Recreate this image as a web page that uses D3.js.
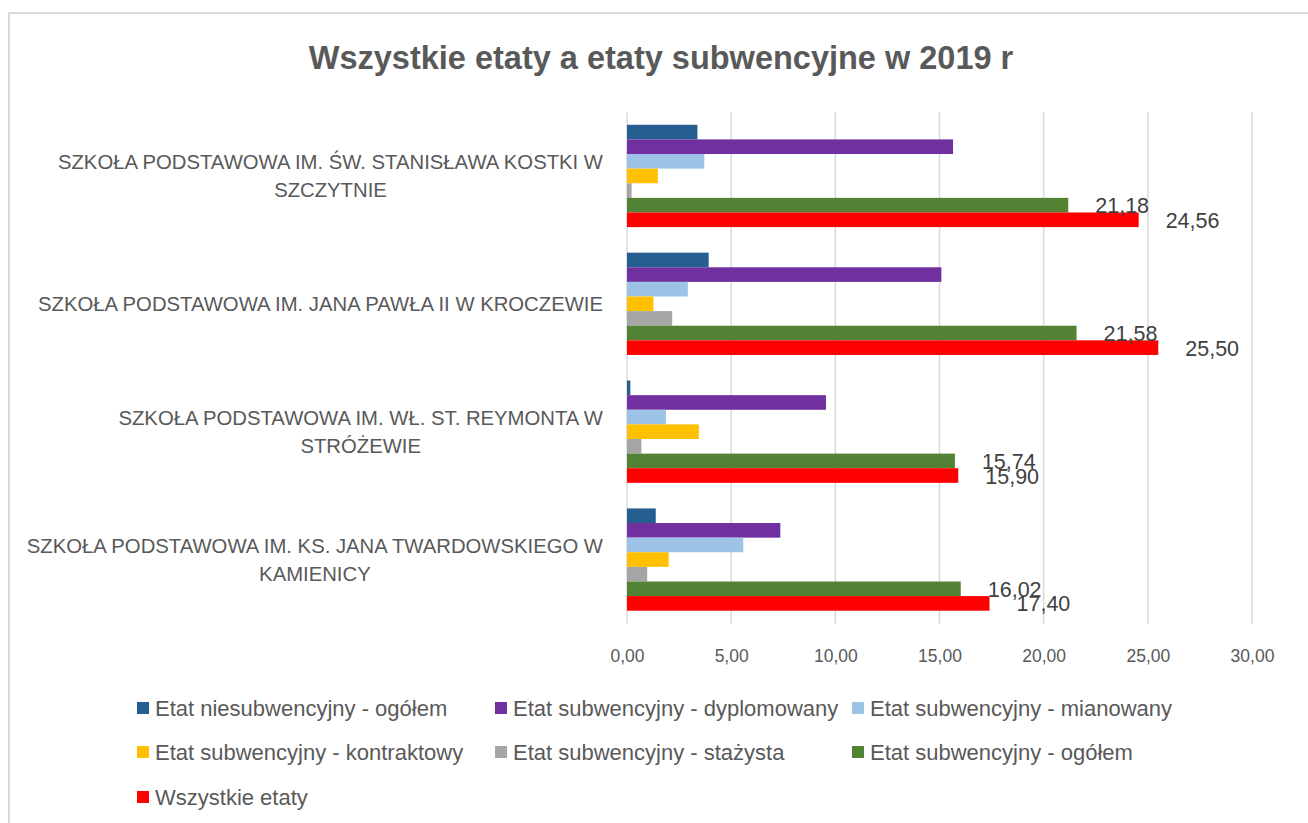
<!DOCTYPE html>
<html>
<head>
<meta charset="utf-8">
<script src="https://cdn.jsdelivr.net/npm/d3@7"></script>
<style>
  body { margin: 0; background: #fff; }
  svg { display: block; font-family: "Liberation Sans", Arial, sans-serif; }
</style>
</head>
<body>
<svg id="chart" width="1308" height="823"></svg>
<script>
// data
const categories = [
  ["SZKOŁA PODSTAWOWA IM. ŚW. STANISŁAWA KOSTKI W", "SZCZYTNIE"],
  ["SZKOŁA PODSTAWOWA IM. JANA PAWŁA II W KROCZEWIE"],
  ["SZKOŁA PODSTAWOWA IM. WŁ. ST. REYMONTA W", "STRÓŻEWIE"],
  ["SZKOŁA PODSTAWOWA IM. KS. JANA TWARDOWSKIEGO W", "KAMIENICY"]
];
const seriesNames = [
  "Etat niesubwencyjny - ogółem",
  "Etat subwencyjny - dyplomowany",
  "Etat subwencyjny - mianowany",
  "Etat subwencyjny - kontraktowy",
  "Etat subwencyjny - stażysta",
  "Etat subwencyjny - ogółem",
  "Wszystkie etaty"
];
const niesubOgolem = [3.38, 3.92, 0.16, 1.38];
const dyplomowany  = [15.65, 15.09, 9.55, 7.36];
const mianowany    = [3.71, 2.92, 1.87, 5.58];
const kontraktowy  = [1.48, 1.27, 3.45, 2.00];
const stazysta     = [0.22, 2.17, 0.69, 0.97];
const subOgolem    = [21.18, 21.58, 15.74, 16.02];
const wszystkie    = [24.56, 25.50, 15.90, 17.40];
const xTicks = [0, 5, 10, 15, 20, 25, 30];
const labelled = ["Etat subwencyjny - ogółem", "Wszystkie etaty"];

const colors = ["#255e91", "#7030a0", "#9dc3e6", "#ffc000", "#a5a5a5", "#548235", "#ff0000"];
const allSeries = [niesubOgolem, dyplomowany, mianowany, kontraktowy, stazysta, subOgolem, wszystkie];

const pl = d3.formatLocale({decimal: ",", thousands: " ", grouping: [3], currency: ["", " zł"]});
const fmt = pl.format(".2f");

const chart = d3.select("#chart");
const textColor = "#595959";

// outer frame
chart.append("rect")
  .attr("x", 9).attr("y", 13)
  .attr("width", 1320).attr("height", 830)
  .attr("fill", "#fff")
  .attr("stroke", "#d9d9d9")
  .attr("stroke-width", 2);

// title
chart.append("text")
  .text("Wszystkie etaty a etaty subwencyjne w 2019 r")
  .attr("x", 661).attr("y", 69)
  .attr("text-anchor", "middle")
  .attr("font-size", 32.5)
  .attr("font-weight", "bold")
  .attr("fill", textColor);

// scales
let x = d3.scaleLinear().domain([0, 30]).range([627, 1252]);
let y = d3.scaleBand()
  .domain(d3.range(categories.length))
  .range([112, 623.5])
  .paddingInner(0.2)
  .paddingOuter(0.1);
let ySub = d3.scaleBand()
  .domain(seriesNames)
  .range([0, y.bandwidth()]);

// gridlines
chart.append("g")
  .selectAll("line")
  .data(xTicks)
  .enter()
  .append("line")
  .attr("x1", d => x(d)).attr("x2", d => x(d))
  .attr("y1", 112).attr("y2", 624)
  .attr("stroke", "#d9d9d9")
  .attr("stroke-width", 1.5);

// x axis labels
let xAxis = d3.axisBottom(x).tickValues(xTicks).tickFormat(fmt).tickSize(0).tickPadding(0);
let xAxisGroup = chart.append("g")
  .attr("transform", "translate(0,662)")
  .call(xAxis);
xAxisGroup.select(".domain").remove();
xAxisGroup.selectAll("text")
  .attr("dy", 0)
  .attr("font-size", 17.5)
  .attr("font-family", "Liberation Sans, Arial, sans-serif")
  .attr("fill", textColor);

// bars
const rows = [];
allSeries.forEach((vals, s) => {
  vals.forEach((v, i) => rows.push({series: seriesNames[s], color: colors[s], cat: i, value: v}));
});

chart.append("g")
  .selectAll("rect")
  .data(rows)
  .enter()
  .append("rect")
  .attr("x", x(0))
  .attr("y", d => y(d.cat) + ySub(d.series))
  .attr("width", d => x(d.value) - x(0))
  .attr("height", ySub.bandwidth())
  .attr("fill", d => d.color);

// data labels
chart.append("g")
  .selectAll("text")
  .data(rows.filter(d => labelled.includes(d.series)))
  .enter()
  .append("text")
  .text(d => fmt(d.value))
  .attr("x", d => x(d.value) + 27)
  .attr("y", d => y(d.cat) + ySub(d.series) + ySub.bandwidth() / 2 + 8)
  .attr("font-size", 21.5)
  .attr("fill", "#404040");

// category labels (right aligned block, lines centred inside)
const catG = chart.append("g");
categories.forEach((lines, i) => {
  const cy = y(i) + y.bandwidth() / 2;
  const lh = 28;
  const first = catG.append("text")
    .text(lines[0])
    .attr("x", 603)
    .attr("y", cy - (lines.length - 1) * lh / 2 + 7)
    .attr("text-anchor", "end")
    .attr("font-size", 20.3)
    .attr("fill", textColor);
  const w = first.node().getComputedTextLength();
  for (let k = 1; k < lines.length; k++) {
    catG.append("text")
      .text(lines[k])
      .attr("x", 603 - w / 2)
      .attr("y", cy - (lines.length - 1) * lh / 2 + k * lh + 7)
      .attr("text-anchor", "middle")
      .attr("font-size", 20.3)
      .attr("fill", textColor);
  }
});

// legend
const legendCols = [137, 495, 852];
const legendRows = [708, 752, 797];
const legend = chart.append("g")
  .selectAll("g")
  .data(seriesNames)
  .enter()
  .append("g")
  .attr("transform", (d, i) => "translate(" + legendCols[i % 3] + "," + legendRows[Math.floor(i / 3)] + ")");
legend.append("rect")
  .attr("x", 0).attr("y", -6)
  .attr("width", 12).attr("height", 12)
  .attr("fill", (d, i) => colors[i]);
legend.append("text")
  .text(d => d)
  .attr("x", 18).attr("y", 7.5)
  .attr("font-size", 22)
  .attr("fill", textColor);
</script>
</body>
</html>
